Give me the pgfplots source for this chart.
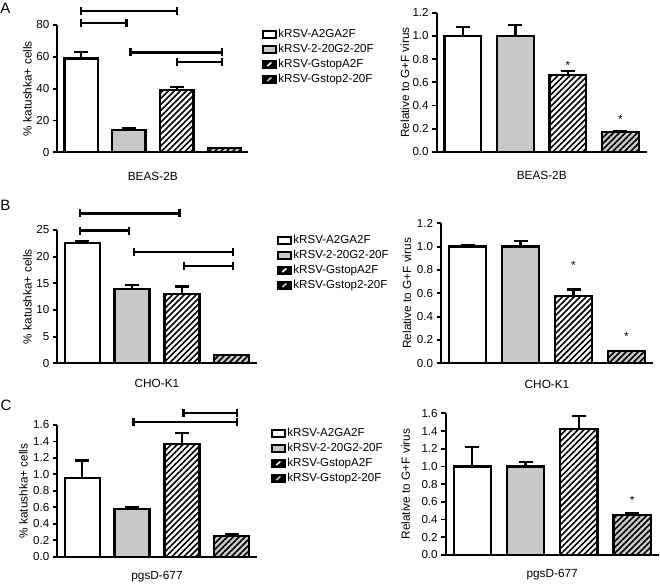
\documentclass[border=0pt]{standalone}
\usepackage{fontspec}
\setmainfont{Liberation Sans}
\usepackage{pgfplots}
\pgfplotsset{compat=1.18}
\usetikzlibrary{patterns.meta}
\definecolor{bargray}{RGB}{200,200,200}
\newcommand{\fnt}{\fontsize{11.8}{12}\selectfont}
\newcommand{\tfnt}{\fontsize{11.6}{12}\selectfont}
\pgfplotsset{
 panel/.style={
  anchor=south west, scale only axis, clip=false,
  xmin=-0.5, xmax=3.5, ymin=0, xtick=\empty,
  axis x line=bottom, axis y line=left,
  axis line style={-, line width=2.3pt, black},
  tick align=outside, major tick length=4.5pt,
  ytick style={line width=1.8pt, black},
  /pgf/number format/assume math mode=true,
  tick label style={font=\tfnt},
  label style={font=\fnt},
  legend cell align=left,
 },
 dec/.style={yticklabel style={/pgf/number format/fixed, /pgf/number format/fixed zerofill, /pgf/number format/precision=1}},
 b/.style={ybar, bar width=0.7, bar shift=0pt, draw=black, line width=2.3pt, forget plot,
   /pgfplots/error bars/y dir=plus, /pgfplots/error bars/y explicit,
   /pgfplots/error bars/error mark=-,
   /pgfplots/error bars/error bar style={line width=2.3pt, black, solid},
   /pgfplots/error bars/error mark options={rotate=90, line width=2.3pt, black, mark size=7pt}},
 b0/.style={b, fill=white},
 b1/.style={b, fill=bargray},
 b2/.style={b, fill=white, postaction={pattern={Lines[angle=45, distance=4.2pt, line width=1.6pt]}}},
 b3/.style={b, fill=bargray, postaction={pattern={Lines[angle=45, distance=4.2pt, line width=1.6pt]}}},
 br/.style={line width=2.3pt, black, mark=|, mark size=4pt, mark options={line width=2.3pt}, forget plot},
 leg/.style={legend style={at={#1}, anchor=north west, draw=none, fill=none, inner sep=0pt,
   font=\fontsize{11.6}{12}\selectfont, row sep=1pt,
   nodes={inner sep=1.5pt, text height=8.5pt, text depth=2.5pt}}},
}
\newcommand{\mylegend}{%
 \addlegendimage{legend image code/.code={\draw[line width=2pt, fill=white] (0pt,-3.5pt) rectangle (13pt,3.5pt);}}
 \addlegendentry{kRSV-A2GA2F}
 \addlegendimage{legend image code/.code={\draw[line width=2pt, fill=bargray] (0pt,-3.5pt) rectangle (13pt,3.5pt);}}
 \addlegendentry{kRSV-2-20G2-20F}
 \addlegendimage{legend image code/.code={\draw[line width=2pt, fill=black] (0pt,-3.5pt) rectangle (13pt,3.5pt); \draw[white, line width=1.6pt] (4.5pt,-1.8pt) -- (8.5pt,1.8pt);}}
 \addlegendentry{kRSV-GstopA2F}
 \addlegendimage{legend image code/.code={\draw[line width=2pt, fill=black] (0pt,-3.5pt) rectangle (13pt,3.5pt); \draw[bargray, line width=1.6pt] (4.5pt,-1.8pt) -- (8.5pt,1.8pt);}}
 \addlegendentry{kRSV-Gstop2-20F}
}
\begin{document}
\begin{tikzpicture}
\useasboundingbox (0pt,0pt) rectangle (660pt,586pt);
\node[font=\fontsize{15}{15}\selectfont] at (5.5pt,578pt) {A};
\node[font=\fontsize{15}{15}\selectfont] at (5.5pt,381pt) {B};
\node[font=\fontsize{15}{15}\selectfont] at (6pt,181pt) {C};

% ---------- A left ----------
\begin{axis}[panel, at={(57.3pt,433.7pt)}, width=191pt, height=127.3pt, ymax=80, ytick={0,20,40,60,80},
 xlabel={BEAS-2B}, xlabel style={at={([yshift=-24.5pt]axis description cs:0.5,0)}, anchor=center},
 ylabel={\% katushka+ cells}, ylabel style={at={([xshift=-30pt]axis description cs:0,0.5)}, anchor=center},
 leg={(1.07,0.984)}]
\addplot[b0] coordinates {(0,59) +- (0,4.0)};
\addplot[b1] coordinates {(1,13.9) +- (0,1.4)};
\addplot[b2] coordinates {(2,39.2) +- (0,1.8)};
\addplot[b3] coordinates {(3,2.5) +- (0,0.4)};
\addplot[br] coordinates {(0,88.8) (2,88.8)};
\addplot[br] coordinates {(0,81.4) (0.95,81.4)};
\addplot[br] coordinates {(1.03,62.8) (2.95,62.8)};
\addplot[br] coordinates {(2,56.6) (2.95,56.6)};
\mylegend
\end{axis}

% ---------- A right ----------
\begin{axis}[panel, dec, at={(436.7pt,434pt)}, width=210pt, height=139.3pt, ymax=1.2, ytick={0,0.2,0.4,0.6,0.8,1.0,1.2},
 xlabel={BEAS-2B}, xlabel style={at={([yshift=-23.7pt]axis description cs:0.5,0)}, anchor=center},
 ylabel={Relative to G+F virus}, ylabel style={at={([xshift=-31.7pt]axis description cs:0,0.5)}, anchor=center}]
\addplot[b0] coordinates {(0,1.0) +- (0,0.075)};
\addplot[b1] coordinates {(1,1.0) +- (0,0.095)};
\addplot[b2] coordinates {(2,0.666) +- (0,0.03)};
\addplot[b3] coordinates {(3,0.172) +- (0,0.004)};
\node[font=\fnt, anchor=base] at (axis cs:2,0.712) {*};
\node[font=\fnt, anchor=base] at (axis cs:3,0.242) {*};
\end{axis}

% ---------- B left ----------
\begin{axis}[panel, at={(57.3pt,222.7pt)}, width=199.4pt, height=133.3pt, ymax=25, ytick={0,5,10,15,20,25},
 xlabel={CHO-K1}, xlabel style={at={([yshift=-19.7pt]axis description cs:0.5,0)}, anchor=center},
 ylabel={\% katushka+ cells}, ylabel style={at={([xshift=-30pt]axis description cs:0,0.5)}, anchor=center},
 leg={(1.10,0.977)}]
\addplot[b0] coordinates {(0,22.6) +- (0,0.4)};
\addplot[b1] coordinates {(1,14.0) +- (0,0.7)};
\addplot[b2] coordinates {(2,13.0) +- (0,1.4)};
\addplot[b3] coordinates {(3,1.5) +- (0,0.1)};
\addplot[br] coordinates {(-0.05,28.1) (1.95,28.1)};
\addplot[br] coordinates {(-0.05,24.9) (0.94,24.9)};
\addplot[br] coordinates {(1.04,20.9) (3.03,20.9)};
\addplot[br] coordinates {(2.04,18.3) (3.03,18.3)};
\mylegend
\end{axis}

% ---------- B right ----------
\begin{axis}[panel, dec, at={(441pt,222.7pt)}, width=212pt, height=140pt, ymax=1.2, ytick={0,0.2,0.4,0.6,0.8,1.0,1.2},
 xlabel={CHO-K1}, xlabel style={at={([yshift=-21pt]axis description cs:0.5,0)}, anchor=center},
 ylabel={Relative to G+F virus}, ylabel style={at={([xshift=-34pt]axis description cs:0,0.5)}, anchor=center}]
\addplot[b0] coordinates {(0,1.0) +- (0,0.012)};
\addplot[b1] coordinates {(1,1.0) +- (0,0.05)};
\addplot[b2] coordinates {(2,0.577) +- (0,0.055)};
\addplot[b3] coordinates {(3,0.103) +- (0,0.004)};
\node[font=\fnt, anchor=base] at (axis cs:2,0.80) {*};
\node[font=\fnt, anchor=base] at (axis cs:3,0.195) {*};
\end{axis}

% ---------- C left ----------
\begin{axis}[panel, dec, at={(57.3pt,29.3pt)}, width=199.4pt, height=131.7pt, ymax=1.6, ytick={0,0.2,0.4,0.6,0.8,1.0,1.2,1.4,1.6},
 xlabel={pgsD-677}, xlabel style={at={([yshift=-20pt]axis description cs:0.5,0)}, anchor=center},
 ylabel={\% katushka+ cells}, ylabel style={at={([xshift=-34pt]axis description cs:0,0.5)}, anchor=center},
 leg={(1.07,0.992)}]
\addplot[b0] coordinates {(0,0.96) +- (0,0.21)};
\addplot[b1] coordinates {(1,0.579) +- (0,0.025)};
\addplot[b2] coordinates {(2,1.369) +- (0,0.13)};
\addplot[b3] coordinates {(3,0.255) +- (0,0.015)};
\addplot[br] coordinates {(2.03,1.749) (3.1,1.749)};
\addplot[br] coordinates {(1.03,1.633) (3.1,1.633)};
\mylegend
\end{axis}

% ---------- C right ----------
\begin{axis}[panel, dec, at={(445.7pt,31pt)}, width=213pt, height=141.7pt, ymax=1.6, ytick={0,0.2,0.4,0.6,0.8,1.0,1.2,1.4,1.6},
 xlabel={pgsD-677}, xlabel style={at={([yshift=-20pt]axis description cs:0.5,0)}, anchor=center},
 ylabel={Relative to G+F virus}, ylabel style={at={([xshift=-40pt]axis description cs:0,0.5)}, anchor=center}]
\addplot[b0] coordinates {(0,1.0) +- (0,0.22)};
\addplot[b1] coordinates {(1,1.0) +- (0,0.05)};
\addplot[b2] coordinates {(2,1.426) +- (0,0.145)};
\addplot[b3] coordinates {(3,0.455) +- (0,0.015)};
\node[font=\fnt, anchor=base] at (axis cs:3,0.566) {*};
\end{axis}
\end{tikzpicture}
\end{document}
